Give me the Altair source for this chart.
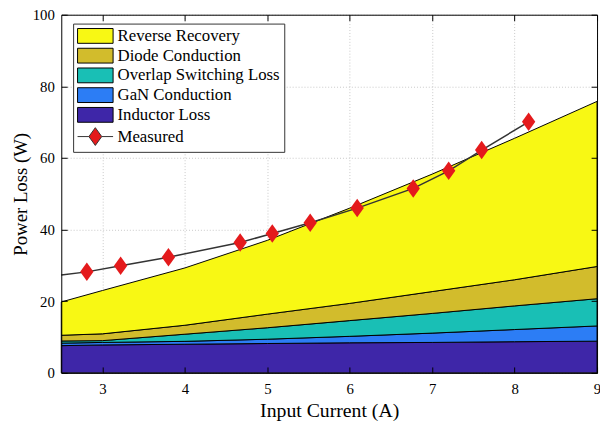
import altair as alt
import pandas as pd

# ---- data ----
current = [2.5, 3, 4, 5, 6, 7, 8, 9]
inductor = [7.6, 7.8, 8.0, 8.2, 8.4, 8.5, 8.7, 8.85]
gan = [0.7, 0.7, 0.8, 1.2, 1.8, 2.6, 3.4, 4.25]
overlap = [0.6, 0.5, 2.0, 3.2, 4.4, 5.5, 6.6, 7.6]
diode = [1.6, 1.9, 2.5, 3.8, 4.8, 6.1, 7.3, 9.0]
reverse = [9.3, 12.1, 16.0, 20.6, 26.6, 32.8, 39.5, 46.1]

meas_x = [2.5, 2.81, 3.22, 3.80, 4.67, 5.06, 5.52, 6.09, 6.77, 7.20, 7.60, 8.17]
meas_y = [27.3, 28.2, 29.9, 32.3, 36.4, 38.9, 41.9, 46.0, 51.5, 56.4, 62.2, 70.1]
meas_marker = [False] + [True] * 11

names = ["Reverse Recovery", "Diode Conduction", "Overlap Switching Loss",
         "GaN Conduction", "Inductor Loss", "Measured"]
colors = ["#F8F814", "#D2BC2C", "#19BFB5", "#2C7DF5", "#3E26A8", "#E41A1C"]
outline = ["black", "black", "black", "black", "black", "#333333"]

x_ticks = [3, 4, 5, 6, 7, 8, 9]
y_ticks = [0, 20, 40, 60, 80, 100]

# ---- tables ----
stack_series = [("Inductor Loss", inductor), ("GaN Conduction", gan),
                ("Overlap Switching Loss", overlap), ("Diode Conduction", diode),
                ("Reverse Recovery", reverse)]
rows = []
for k, (nm, vals) in enumerate(stack_series):
    for xv, yv in zip(current, vals):
        rows.append({"current": xv, "loss": yv, "series": nm, "ord": k})
area_df = pd.DataFrame(rows)

line_df = pd.DataFrame({"current": meas_x, "loss": meas_y})
pts_df = pd.DataFrame({"current": meas_x, "loss": meas_y, "marker": meas_marker})
pts_df = pts_df[pts_df["marker"]].copy()

legend_df = pd.DataFrame({"current": pd.Series([], dtype=float),
                          "loss": pd.Series([], dtype=float),
                          "series": pd.Series([], dtype=str)})

W, H = 543, 363
FONT = "Liberation Serif"
SYM = 225  # symbol size -> 7.5 px per path unit
rect_path = "M-2.4,-1H2.4V1H-2.4Z"
marker_path = "M0,-1.25L0.9,0L0,1.25L-0.9,0Z"
legend_meas_path = "M-2.4,0H-0.87M0.87,0H2.4M0,-1.2L0.87,0L0,1.2L-0.87,0Z"
shapes = [rect_path] * 5 + [legend_meas_path]

xs = alt.Scale(domain=[2.5, 9], nice=False, zero=False)
ys = alt.Scale(domain=[0, 100], nice=False)

leg = alt.Legend(title=None, orient="none", legendX=12, legendY=9,
                 symbolSize=SYM, symbolStrokeWidth=1, symbolOffset=10,
                 symbolOpacity=1, labelFont=FONT, labelFontSize=17, labelColor="black",
                 labelOffset=14, labelLimit=400, rowPadding=1, padding=4,
                 strokeColor="#333333", fillColor="white", cornerRadius=0)

lab_x = alt.Axis(orient="bottom", values=x_ticks, ticks=False, domain=False, grid=True,
                 gridColor="#c8c8c8", gridDash=[1, 2], gridWidth=1, labelFlush=False,
                 labelFont=FONT, labelFontSize=15, labelColor="black", labelPadding=9,
                 title="Input Current (A)", titleFont=FONT, titleFontSize=20,
                 titleFontWeight="normal", titleColor="black", titlePadding=4, zindex=0)
lab_y = alt.Axis(orient="left", values=y_ticks, ticks=False, domain=False, grid=True,
                 gridColor="#c8c8c8", gridDash=[1, 2], gridWidth=1, labelFlush=False,
                 labelFont=FONT, labelFontSize=15, labelColor="black", labelPadding=7,
                 title="Power Loss (W)", titleFont=FONT, titleFontSize=19,
                 titleFontWeight="normal", titleColor="black", titlePadding=2, zindex=0)


def tick_axis(orient, offset, vals):
    return alt.Axis(orient=orient, offset=offset, values=vals, labels=False, ticks=True,
                    tickSize=6, tickColor="black", tickWidth=1, domain=True,
                    domainColor="black", domainWidth=1, grid=False, title=None, zindex=1)


areas = alt.Chart(area_df).mark_area(
    opacity=1, interpolate="linear", stroke="black", strokeWidth=1
).encode(
    x=alt.X("current:Q", scale=xs, axis=lab_x),
    y=alt.Y("loss:Q", stack="zero", scale=ys, axis=lab_y),
    fill=alt.Fill("series:N", legend=leg),
    order=alt.Order("ord:Q"),
)

line = alt.Chart(line_df).mark_line(color="#333333", strokeWidth=1.5).encode(
    x=alt.X("current:Q", scale=xs, axis=tick_axis("top", -H, x_ticks)),
    y=alt.Y("loss:Q", scale=ys, axis=tick_axis("right", -W, y_ticks)),
)

markers = alt.Chart(pts_df).mark_point(
    shape=marker_path, filled=True, size=SYM, opacity=1, color="#E41A1C", strokeWidth=0
).encode(
    x=alt.X("current:Q", scale=xs, axis=tick_axis("bottom", -H, x_ticks)),
    y=alt.Y("loss:Q", scale=ys, axis=tick_axis("left", -W, y_ticks)),
)

legend_layer = alt.Chart(legend_df).mark_point(
    filled=True, size=SYM, opacity=1, strokeWidth=1
).encode(
    x=alt.X("current:Q", scale=xs, axis=None),
    y=alt.Y("loss:Q", scale=ys, axis=None),
    fill=alt.Fill("series:N", scale=alt.Scale(domain=names, range=colors), legend=leg),
    stroke=alt.Stroke("series:N", scale=alt.Scale(domain=names, range=outline), legend=leg),
    shape=alt.Shape("series:N", scale=alt.Scale(domain=names, range=shapes), legend=leg),
)

chart = alt.layer(areas, line, markers, legend_layer).resolve_axis(
    x="independent", y="independent"
).properties(
    width=W, height=H,
    autosize=alt.AutoSizeParams(type="none"),
    padding={"left": 54, "top": 4, "right": 3, "bottom": 48},
    background="white",
).configure_view(stroke=None)

chart.save("out.html", embed_options={"renderer": "svg", "actions": False})
